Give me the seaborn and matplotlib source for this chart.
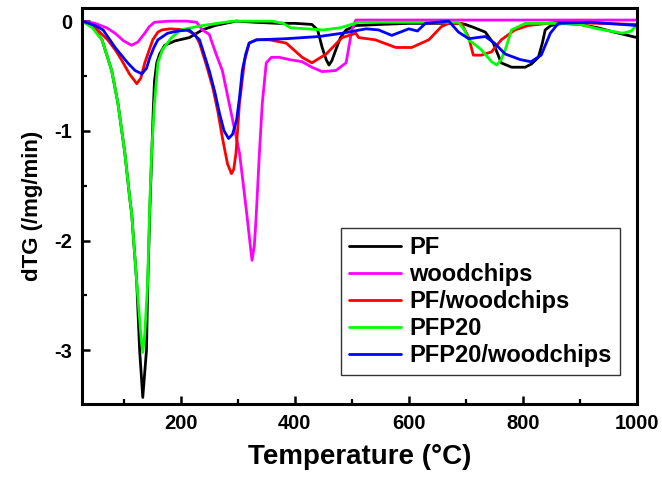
import matplotlib
matplotlib.use("Agg")
import matplotlib.pyplot as plt
import seaborn as sns
import pandas as pd
from matplotlib.ticker import MultipleLocator

# Derivative thermogravimetric curves (temperature in °C, dTG in /mg/min)
pf_T = [28, 45, 62, 79, 90, 102, 111, 114, 123, 128, 133.5, 140, 142, 146, 149, 152, 154, 158, 163,
        172, 190, 215, 238, 260, 297, 330, 370, 400, 430, 440, 448, 455, 460, 465, 472, 480, 490,
        507, 550, 600, 650, 690, 699, 715, 734, 748, 762, 780, 804, 815, 827, 834, 839, 849, 870,
        900, 931, 960, 1000]
pf_dtg = [0, -0.05, -0.17, -0.45, -0.75, -1.2, -1.63, -1.75, -2.39, -3.0, -3.43, -3.0, -2.45, -1.7,
          -1.25, -0.8, -0.55, -0.38, -0.3, -0.22, -0.18, -0.15, -0.08, -0.04, 0.0, -0.01, -0.02,
          -0.02, -0.03, -0.08, -0.24, -0.35, -0.40, -0.36, -0.26, -0.15, -0.08, -0.04, -0.03, -0.02,
          -0.02, -0.02, -0.03, -0.06, -0.1, -0.2, -0.38, -0.42, -0.42, -0.39, -0.33, -0.2, -0.08,
          -0.04, -0.02, -0.03, -0.06, -0.1, -0.15]

wood_T = [28, 50, 70, 85, 100, 114, 125, 137, 145, 154, 180, 210, 228, 238, 250, 262, 273, 285, 295,
          303, 310, 317, 321, 325, 329, 332, 338, 343, 350, 359, 373, 390, 413, 430, 448, 472, 490,
          500, 507, 600, 700, 800, 900, 1000]
wood_dtg = [0, -0.02, -0.06, -0.11, -0.18, -0.22, -0.19, -0.11, -0.05, -0.01, 0.0, 0.0, -0.01, -0.08,
            -0.12, -0.3, -0.45, -0.75, -1.0, -1.2, -1.5, -1.81, -2.0, -2.18, -2.05, -1.81, -1.2,
            -0.75, -0.38, -0.33, -0.33, -0.35, -0.37, -0.42, -0.46, -0.45, -0.38, -0.08, 0.01, 0.01,
            0.01, 0.01, 0.01, 0.01]

pfwood_T = [28, 50, 72, 85, 97, 110, 123, 130, 137, 145, 151, 160, 167, 181, 210, 225, 233, 245, 256,
            265, 273, 282, 289, 293, 297, 303, 312, 320, 333, 355, 385, 413, 430, 455, 483, 507, 512,
            541, 577, 605, 635, 657, 670, 692, 705, 713, 727, 745, 762, 786, 809, 862, 930, 1000]
pfwood_dtg = [0, -0.06, -0.17, -0.26, -0.36, -0.48, -0.57, -0.52, -0.38, -0.26, -0.17, -0.1, -0.08,
              -0.07, -0.08, -0.12, -0.2, -0.4, -0.6, -0.82, -1.06, -1.3, -1.39, -1.35, -1.2, -0.75,
              -0.36, -0.2, -0.17, -0.17, -0.2, -0.33, -0.38, -0.3, -0.15, -0.11, -0.15, -0.17, -0.24,
              -0.24, -0.17, -0.05, -0.02, -0.02, -0.15, -0.31, -0.31, -0.28, -0.17, -0.08, -0.04,
              -0.01, -0.02, -0.03]

pfp20_T = [28, 45, 62, 79, 90, 102, 111, 114, 123, 130, 133.5, 137, 142, 146, 149, 154, 160, 168, 184,
           200, 238, 291, 360, 380, 392, 420, 450, 480, 512, 600, 687, 697, 705, 727, 745, 754, 762,
           769, 780, 804, 850, 900, 931, 975, 990, 1000]
pfp20_dtg = [0, -0.06, -0.17, -0.45, -0.75, -1.2, -1.63, -1.75, -2.39, -2.85, -3.02, -2.85, -2.39,
             -1.63, -1.2, -0.75, -0.38, -0.26, -0.15, -0.08, -0.04, 0.0, 0.0, -0.02, -0.06, -0.07,
             -0.08, -0.06, -0.01, -0.01, -0.01, -0.08, -0.17, -0.26, -0.37, -0.40, -0.35, -0.26,
             -0.08, -0.02, -0.02, -0.03, -0.07, -0.11, -0.09, -0.03]

pfp20wood_T = [28, 50, 64, 85, 107, 120, 132, 140, 146, 153, 160, 177, 195, 215, 233, 250, 260, 268,
               276, 284, 291, 298, 303, 308, 314, 320, 333, 385, 443, 483, 525, 547, 570, 585, 600,
               615, 629, 670, 687, 705, 734, 750, 769, 795, 814, 832, 848, 862, 920, 1000]
pfp20wood_dtg = [0, -0.04, -0.08, -0.24, -0.38, -0.45, -0.48, -0.43, -0.33, -0.24, -0.17, -0.11,
                 -0.09, -0.08, -0.17, -0.45, -0.65, -0.84, -1.0, -1.07, -1.03, -0.9, -0.7, -0.45,
                 -0.3, -0.2, -0.17, -0.16, -0.14, -0.11, -0.07, -0.08, -0.13, -0.1, -0.07, -0.09,
                 -0.02, 0.0, -0.1, -0.16, -0.14, -0.2, -0.3, -0.35, -0.37, -0.31, -0.11, -0.02,
                 -0.01, -0.04]

samples = ["PF", "woodchips", "PF/woodchips", "PFP20", "PFP20/woodchips"]
colors = ["#000000", "#ff00ff", "#ff0000", "#00ff00", "#0000ff"]
series = [(pf_T, pf_dtg), (wood_T, wood_dtg), (pfwood_T, pfwood_dtg),
          (pfp20_T, pfp20_dtg), (pfp20wood_T, pfp20wood_dtg)]

frames = []
for name, (t, d) in zip(samples, series):
    frames.append(pd.DataFrame({"Temperature": t, "dTG": d, "sample": name}))
df = pd.concat(frames, ignore_index=True)

sns.set_style("white")
plt.rcParams["font.family"] = ["Liberation Sans", "DejaVu Sans"]
plt.rcParams["font.weight"] = "bold"
plt.rcParams["axes.unicode_minus"] = False
plt.rcParams["text.color"] = "black"
plt.rcParams["axes.labelcolor"] = "black"
plt.rcParams["xtick.color"] = "black"
plt.rcParams["ytick.color"] = "black"

fig = plt.figure(figsize=(6.62, 4.78), dpi=100)
ax = fig.add_axes([0.1239, 0.1548, 0.8384, 0.8285])

sns.lineplot(data=df, x="Temperature", y="dTG", hue="sample", hue_order=samples,
             palette=dict(zip(samples, colors)), estimator=None, sort=False,
             linewidth=2.0, ax=ax)

ax.set_xlim(27, 1000)
ax.set_ylim(-3.49, 0.12)
ax.xaxis.set_major_locator(MultipleLocator(200))
ax.xaxis.set_minor_locator(MultipleLocator(100))
ax.yaxis.set_major_locator(MultipleLocator(1))
ax.yaxis.set_minor_locator(MultipleLocator(0.5))

for side in ax.spines.values():
    side.set_linewidth(2.2)
    side.set_color("black")

ax.tick_params(which="major", direction="in", length=6, width=1.8, labelsize=14.5,
               pad=7, colors="black")
ax.tick_params(which="minor", direction="in", length=3.5, width=1.6, colors="black")
ax.tick_params(axis="x", which="both", bottom=True, top=False)
ax.tick_params(axis="y", which="both", left=True, right=False)
for lab in ax.get_xticklabels() + ax.get_yticklabels():
    lab.set_fontweight("bold")

ax.set_xlabel("Temperature (°C)", fontsize=20, fontweight="bold", labelpad=8, color="black")
ax.set_ylabel("dTG (/mg/min)", fontsize=16, fontweight="bold", labelpad=8, color="black")

leg = ax.legend(loc="lower right", bbox_to_anchor=(0.969, 0.073),
                prop={"weight": "bold", "size": 17}, frameon=True, fancybox=False,
                handlelength=2.2, handletextpad=0.35, labelspacing=0.17, borderpad=0.35,
                borderaxespad=0)
leg.get_frame().set_edgecolor("black")
leg.get_frame().set_linewidth(1.0)
for txt in leg.get_texts():
    txt.set_color("black")
for h in leg.get_lines():
    h.set_linewidth(2.0)

fig.savefig("out.png", dpi=100)
